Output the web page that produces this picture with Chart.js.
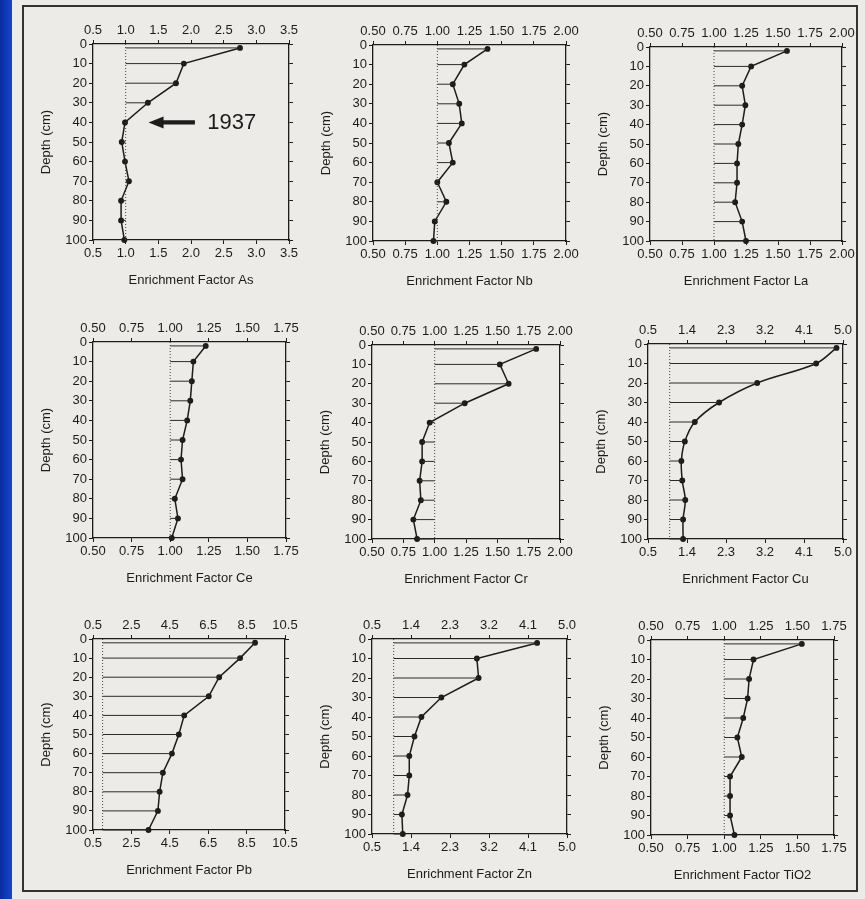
<!DOCTYPE html>
<html>
<head>
<meta charset="utf-8">
<script src="https://cdn.jsdelivr.net/npm/chart.js@4"></script>
<style>
    html, body { margin: 0; padding: 0; }
    body {
        width: 865px; height: 899px; position: relative; overflow: hidden;
        background: #ecebe8;
        font-family: "Liberation Sans", Arial, sans-serif;
    }
    #strip {
        position: absolute; left: 0; top: 0; width: 12px; height: 899px;
        background: linear-gradient(to right, #0a2c9e, #1546cc);
    }
    #frame {
        position: absolute; left: 22px; top: 5px; width: 832px; height: 883px;
        border: 2px solid #333;
    }
    canvas { position: absolute; }
</style>
</head>
<body>
<div id="strip"></div>
<div id="frame"></div>

<script>
// Depth of each sample (cm) and the depth axis ticks
const depths = [2, 10, 20, 30, 40, 50, 60, 70, 80, 90, 100];
const depthTicks = [0, 10, 20, 30, 40, 50, 60, 70, 80, 90, 100];

// Enrichment factors read from the profiles
const asEF   = [2.75, 1.89, 1.77, 1.34, 0.99, 0.94, 0.99, 1.05, 0.93, 0.93, 0.98];
const nbEF   = [1.39, 1.21, 1.12, 1.17, 1.19, 1.09, 1.12, 1.00, 1.07, 0.98, 0.97];
const laEF   = [1.57, 1.29, 1.22, 1.245, 1.22, 1.19, 1.18, 1.18, 1.165, 1.22, 1.25];
const ceEF   = [1.23, 1.15, 1.14, 1.13, 1.11, 1.08, 1.07, 1.08, 1.03, 1.05, 1.01];
const crEF   = [1.81, 1.52, 1.59, 1.24, 0.96, 0.90, 0.90, 0.88, 0.89, 0.83, 0.86];
const cuEF   = [4.85, 4.38, 3.02, 2.14, 1.58, 1.35, 1.27, 1.29, 1.36, 1.31, 1.31];
const pbEF   = [8.94, 8.16, 7.07, 6.53, 5.25, 4.97, 4.61, 4.14, 3.97, 3.88, 3.39];
const znEF   = [4.31, 2.92, 2.96, 2.10, 1.64, 1.48, 1.36, 1.36, 1.32, 1.19, 1.21];
const tio2EF = [1.53, 1.20, 1.17, 1.16, 1.13, 1.09, 1.12, 1.04, 1.04, 1.04, 1.07];

// Enrichment factor axis ticks
const asTicks      = [0.5, 1.0, 1.5, 2.0, 2.5, 3.0, 3.5];
const ticksTo200   = [0.5, 0.75, 1.0, 1.25, 1.5, 1.75, 2.0];
const ticksTo175   = [0.5, 0.75, 1.0, 1.25, 1.5, 1.75];
const cuZnTicks    = [0.5, 1.4, 2.3, 3.2, 4.1, 5.0];
const pbTicks      = [0.5, 2.5, 4.5, 6.5, 8.5, 10.5];

const baseline = 1.0;       // EF = 1 reference line
const markYear = '1937';    // dated horizon on the As profile
const markDepth = 40;

// Plot-area boxes on the page: left, top, right, bottom
const panels = [
    { el: 'As',   values: asEF,   ticks: asTicks,    dec: 1, box: [92.7, 44, 289, 240] },
    { el: 'Nb',   values: nbEF,   ticks: ticksTo200, dec: 2, box: [372.7, 45, 565.7, 240.7] },
    { el: 'La',   values: laEF,   ticks: ticksTo200, dec: 2, box: [650, 47, 841.7, 241] },
    { el: 'Ce',   values: ceEF,   ticks: ticksTo175, dec: 2, box: [92.7, 342.3, 285.7, 538.3] },
    { el: 'Cr',   values: crEF,   ticks: ticksTo200, dec: 2, box: [371.7, 345, 560, 539.3] },
    { el: 'Cu',   values: cuEF,   ticks: cuZnTicks,  dec: 1, box: [648.3, 344.3, 843.3, 539.3], smooth: true },
    { el: 'Pb',   values: pbEF,   ticks: pbTicks,    dec: 1, box: [92.7, 639, 285, 830] },
    { el: 'Zn',   values: znEF,   ticks: cuZnTicks,  dec: 1, box: [371.7, 639.3, 566.7, 834] },
    { el: 'TiO2', values: tio2EF, ticks: ticksTo175, dec: 2, box: [651, 640, 834, 835] }
];

const LEFT_W = 58, TOP_H = 26, RIGHT_W = 22, BOTTOM_H = 52;
const INK = '#1c1c1c';
const FONT = "'Liberation Sans', Arial, sans-serif";

// Arrow and year label on the As profile
const yearMarker = {
    id: 'yearMarker',
    afterDatasetsDraw(chart) {
        const ctx = chart.ctx;
        const x = chart.scales.x, y = chart.scales.y;
        const yy = y.getPixelForValue(markDepth);
        const tip = x.getPixelForValue(1.35);
        const neck = x.getPixelForValue(1.58);
        const tail = x.getPixelForValue(2.06);
        ctx.save();
        ctx.fillStyle = INK;
        ctx.beginPath();
        ctx.moveTo(tip, yy);
        ctx.lineTo(neck, yy - 6);
        ctx.lineTo(neck, yy - 2.2);
        ctx.lineTo(tail, yy - 2.2);
        ctx.lineTo(tail, yy + 2.2);
        ctx.lineTo(neck, yy + 2.2);
        ctx.lineTo(neck, yy + 6);
        ctx.closePath();
        ctx.fill();
        ctx.font = '22px ' + FONT;
        ctx.textBaseline = 'middle';
        ctx.textAlign = 'left';
        ctx.fillText(markYear, x.getPixelForValue(2.25), yy + 1);
        ctx.restore();
    }
};

function efAxis(p, position, withTitle) {
    const axis = {
        type: 'linear',
        position: position,
        min: p.ticks[0],
        max: p.ticks[p.ticks.length - 1],
        afterBuildTicks: a => { a.ticks = p.ticks.map(v => ({ value: v })); },
        ticks: {
            autoSkip: false, maxRotation: 0, padding: 2,
            color: INK, font: { family: FONT, size: 13 },
            callback: v => Number(v).toFixed(p.dec)
        },
        grid: { drawOnChartArea: false, drawTicks: true, tickLength: 4, color: INK, lineWidth: 1 },
        border: { color: INK, width: 1.3 },
        afterFit: a => { a.height = position === 'top' ? TOP_H : BOTTOM_H; }
    };
    if (withTitle) {
        axis.title = {
            display: true, text: 'Enrichment Factor ' + p.el,
            color: INK, font: { family: FONT, size: 13 }, padding: { top: 4, bottom: 4 }
        };
    }
    return axis;
}

function depthAxis(position) {
    const left = position === 'left';
    return {
        type: 'linear',
        position: position,
        reverse: true,
        min: 0, max: 100,
        afterBuildTicks: a => { a.ticks = depthTicks.map(v => ({ value: v })); },
        ticks: {
            display: left, autoSkip: false, padding: 2,
            color: INK, font: { family: FONT, size: 13 }
        },
        grid: { drawOnChartArea: false, drawTicks: true, tickLength: 4, color: INK, lineWidth: 1 },
        border: { color: INK, width: 1.3 },
        title: {
            display: left, text: 'Depth (cm)',
            color: INK, font: { family: FONT, size: 13 }, padding: { top: 4, bottom: 4 }
        },
        afterFit: a => { a.width = left ? LEFT_W : RIGHT_W; }
    };
}

function drawPanel(p) {
    const [l, t, r, b] = p.box;
    const canvas = document.createElement('canvas');
    const w = Math.round(r - l + LEFT_W + RIGHT_W);
    const h = Math.round(b - t + TOP_H + BOTTOM_H);
    canvas.width = w;
    canvas.height = h;
    canvas.style.left = (l - LEFT_W) + 'px';
    canvas.style.top = (t - TOP_H) + 'px';
    document.body.appendChild(canvas);

    // horizontal lines from EF = 1 out to each sample
    const drops = [];
    depths.forEach((d, i) => {
        drops.push({ x: baseline, y: d }, { x: p.values[i], y: d }, { x: NaN, y: NaN });
    });

    new Chart(canvas, {
        type: 'scatter',
        data: {
            datasets: [
                {
                    data: [{ x: baseline, y: 0 }, { x: baseline, y: 100 }],
                    showLine: true, borderColor: '#444', borderWidth: 1,
                    borderDash: [1, 2], pointRadius: 0
                },
                {
                    data: drops,
                    showLine: true, spanGaps: false, borderColor: '#2a2a2a',
                    borderWidth: 1, pointRadius: 0, clip: false
                },
                {
                    data: depths.map((d, i) => ({ x: p.values[i], y: d })),
                    showLine: true, borderColor: INK, borderWidth: 1.5,
                    tension: p.smooth ? 0.35 : 0, clip: false,
                    pointRadius: 2.2, pointBackgroundColor: INK, pointBorderColor: INK
                }
            ]
        },
        options: {
            responsive: false,
            animation: false,
            layout: { padding: 0 },
            plugins: { legend: { display: false }, tooltip: { enabled: false } },
            scales: {
                x: efAxis(p, 'top', false),
                x2: efAxis(p, 'bottom', true),
                y: depthAxis('left'),
                y2: depthAxis('right')
            }
        },
        plugins: p.el === 'As' ? [yearMarker] : []
    });
}

panels.forEach(drawPanel);
</script>
</body>
</html>
